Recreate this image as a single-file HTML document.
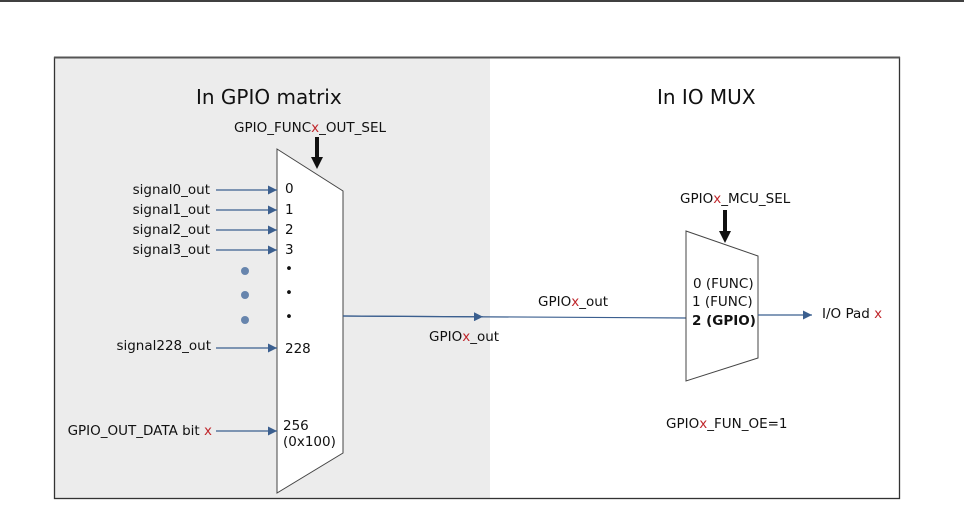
<!DOCTYPE html>
<html><head><meta charset="utf-8"><style>
html,body{margin:0;padding:0;background:#fff;}
svg{display:block;font-family:"DejaVu Sans","Liberation Sans",sans-serif;}
.t{font-size:13.5px;fill:#111;}
.r{fill:#c0282d;}
</style></head><body>
<svg width="964" height="509" viewBox="0 0 964 509">
<defs>
<marker id="a" viewBox="0 0 10 10" refX="10" refY="5" markerWidth="11" markerHeight="9" markerUnits="userSpaceOnUse" orient="auto"><path d="M0,0 L10,5 L0,10 z" fill="#3b5f8f"/></marker>
</defs>
<line x1="0" y1="1" x2="964" y2="1" stroke="#000" stroke-width="1.5"/>
<rect x="54" y="57" width="436" height="441" fill="#ececec"/>
<rect x="54.5" y="57.5" width="845" height="441" fill="none" stroke="#333" stroke-width="1.3"/>
<line x1="54" y1="57.5" x2="900" y2="57.5" stroke="#555" stroke-width="2"/>
<text x="196" y="104" style="font-size:20px" fill="#111">In GPIO matrix</text>
<text x="657" y="104" style="font-size:20px" fill="#111">In IO MUX</text>
<text class="t" x="310" y="132" text-anchor="middle">GPIO_FUNC<tspan class="r">x</tspan>_OUT_SEL</text>
<line x1="317" y1="137" x2="317" y2="158" stroke="#111" stroke-width="4"/>
<polygon points="311,157 323,157 317,169" fill="#111"/>
<polygon points="277,149 343,191 343,453 277,493" fill="#fff" stroke="#444" stroke-width="1"/>
<g stroke="#3b5f8f" stroke-width="1.2">
<line x1="216" y1="190" x2="277" y2="190" marker-end="url(#a)"/>
<line x1="216" y1="210" x2="277" y2="210" marker-end="url(#a)"/>
<line x1="216" y1="230" x2="277" y2="230" marker-end="url(#a)"/>
<line x1="216" y1="250" x2="277" y2="250" marker-end="url(#a)"/>
<line x1="216" y1="348" x2="277" y2="348" marker-end="url(#a)"/>
<line x1="216" y1="431" x2="277" y2="431" marker-end="url(#a)"/>
</g>
<g fill="#6785ad"><circle cx="245" cy="271" r="4"/><circle cx="245" cy="295" r="4"/><circle cx="245" cy="320" r="4"/></g>
<g class="t" text-anchor="end">
<text x="210" y="194">signal0_out</text>
<text x="210" y="214">signal1_out</text>
<text x="210" y="234">signal2_out</text>
<text x="210" y="254">signal3_out</text>
<text x="211" y="350">signal228_out</text>
<text x="212" y="435">GPIO_OUT_DATA bit <tspan class="r">x</tspan></text>
</g>
<g class="t">
<text x="285" y="193">0</text><text x="285" y="214">1</text><text x="285" y="234">2</text><text x="285" y="254">3</text>
<text x="285" y="273">•</text><text x="285" y="297">•</text><text x="285" y="321">•</text>
<text x="285" y="353">228</text>
<text x="283" y="430">256</text><text x="283" y="446">(0x100)</text>
</g>
<line x1="343" y1="316" x2="686" y2="318" stroke="#3b5f8f" stroke-width="1.2"/>
<line x1="343" y1="316" x2="483" y2="316.8" stroke="#3b5f8f" stroke-width="1.2" marker-end="url(#a)"/>
<text class="t" x="538" y="306">GPIO<tspan class="r">x</tspan>_out</text>
<text class="t" x="429" y="341">GPIO<tspan class="r">x</tspan>_out</text>
<text class="t" x="680" y="203">GPIO<tspan class="r">x</tspan>_MCU_SEL</text>
<line x1="725" y1="210" x2="725" y2="232" stroke="#111" stroke-width="4"/>
<polygon points="719,231 731,231 725,243" fill="#111"/>
<polygon points="686,231 758,256 758,358 686,381" fill="#fff" stroke="#444" stroke-width="1"/>
<g class="t">
<text x="693" y="288">0 (FUNC)</text>
<text x="692" y="306">1 (FUNC)</text>
<text x="692" y="325" font-weight="bold">2 (GPIO)</text>
</g>
<line x1="758" y1="315" x2="812" y2="315" stroke="#3b5f8f" stroke-width="1.2" marker-end="url(#a)"/>
<text class="t" x="822" y="318">I/O Pad <tspan class="r">x</tspan></text>
<text class="t" x="666" y="428">GPIO<tspan class="r">x</tspan>_FUN_OE=1</text>
</svg>
</body></html>
